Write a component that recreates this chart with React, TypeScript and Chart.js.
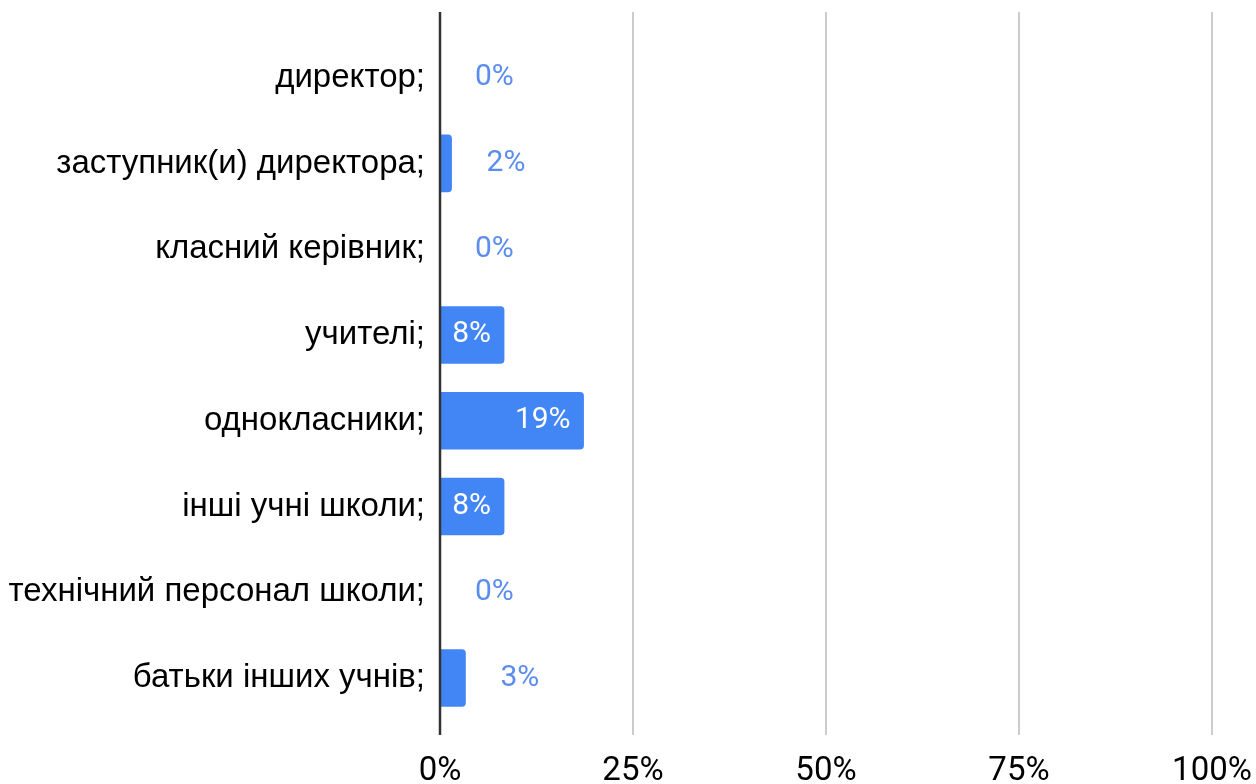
import React, { useEffect, useRef } from "react";
import { Chart, registerables } from "chart.js";

Chart.register(...registerables);

const categories = [
  "директор;",
  "заступник(и) директора;",
  "класний керівник;",
  "учителі;",
  "однокласники;",
  "інші учні школи;",
  "технічний персонал школи;",
  "батьки інших учнів;",
];
const values = [0, 1.5, 0, 8.3, 18.6, 8.3, 0, 3.3];
const valueLabels = ["0%", "2%", "0%", "8%", "19%", "8%", "0%", "3%"];
const xTicks = [0, 25, 50, 75, 100];

const BAR = "#4285F4";
const LABEL_BLUE = "#5b8def";

const gridPlugin = {
  id: "customGrid",
  beforeDatasetsDraw(chart: any) {
    const { ctx } = chart;
    const x = chart.scales.x;
    ctx.save();
    xTicks.forEach((t) => {
      if (t === 0) return;
      const px = x.getPixelForValue(t);
      ctx.strokeStyle = "#cccccc";
      ctx.lineWidth = 2;
      ctx.beginPath();
      ctx.moveTo(px, 12);
      ctx.lineTo(px, 735);
      ctx.stroke();
    });
    ctx.restore();
  },
  afterDatasetsDraw(chart: any) {
    const { ctx } = chart;
    const x = chart.scales.x;
    const px = x.getPixelForValue(0);
    ctx.save();
    ctx.strokeStyle = "#333333";
    ctx.lineWidth = 2.5;
    ctx.beginPath();
    ctx.moveTo(px, 12);
    ctx.lineTo(px, 735);
    ctx.stroke();
    ctx.restore();
  },
};

const labelPlugin = {
  id: "valueLabels",
  afterDraw(chart: any) {
    const { ctx } = chart;
    const meta = chart.getDatasetMeta(0);
    ctx.save();
    ctx.font = "30px Roboto";
    ctx.textBaseline = "middle";
    meta.data.forEach((bar: any, i: number) => {
      const text = valueLabels[i];
      const w = ctx.measureText(text).width;
      const barW = bar.x - bar.base;
      if (barW > w + 20) {
        ctx.fillStyle = "#ffffff";
        ctx.textAlign = "right";
        ctx.fillText(text, bar.x - 13, bar.y);
      } else {
        ctx.fillStyle = LABEL_BLUE;
        ctx.textAlign = "left";
        ctx.fillText(text, bar.x + 35, bar.y);
      }
    });
    ctx.restore();
  },
};

export default function App() {
  const ref = useRef<HTMLCanvasElement | null>(null);
  useEffect(() => {
    if (!ref.current) return;
    const chart = new Chart(ref.current, {
      type: "bar",
      data: {
        labels: categories,
        datasets: [
          {
            data: values,
            backgroundColor: BAR,
            borderRadius: { topRight: 4, bottomRight: 4, topLeft: 0, bottomLeft: 0 },
            borderSkipped: false,
            barThickness: 57,
          },
        ],
      },
      options: {
        indexAxis: "y",
        animation: false,
        responsive: false,
        events: [],
        layout: { padding: { top: 29.5, right: 44, left: 0, bottom: 0 } },
        plugins: {
          legend: { display: false },
          tooltip: { enabled: false },
        },
        scales: {
          x: {
            type: "linear",
            min: 0,
            max: 100,
            afterBuildTicks: (scale: any) => {
              scale.ticks = xTicks.map((v) => ({ value: v }));
            },
            afterFit: (scale: any) => {
              scale.height = 784 - 29.5 - 691.4;
              scale.paddingLeft = 0;
              scale.paddingRight = 0;
            },
            grid: { display: false, drawTicks: false },
            border: { display: false },
            ticks: {
              padding: 31,
              color: "#000000",
              font: { family: "Roboto", size: 33 },
              callback: (v: any) => v + "%",
              maxRotation: 0,
              autoSkip: false,
            },
          },
          y: {
            afterFit: (scale: any) => {
              scale.width = 440;
            },
            grid: { display: false, drawTicks: false },
            border: { display: false },
            ticks: {
              padding: 15,
              color: "#000000",
              font: { family: "'Liberation Sans', Arial, sans-serif", size: 33 },
              autoSkip: false,
            },
          },
        },
      },
      plugins: [gridPlugin, labelPlugin],
    });
    return () => chart.destroy();
  }, []);
  return (
    <div style={{ position: "fixed", left: 0, top: 0, width: 1256, height: 784, background: "#fff" }}>
      <canvas ref={ref} width={1256} height={784} style={{ width: 1256, height: 784 }} />
    </div>
  );
}
